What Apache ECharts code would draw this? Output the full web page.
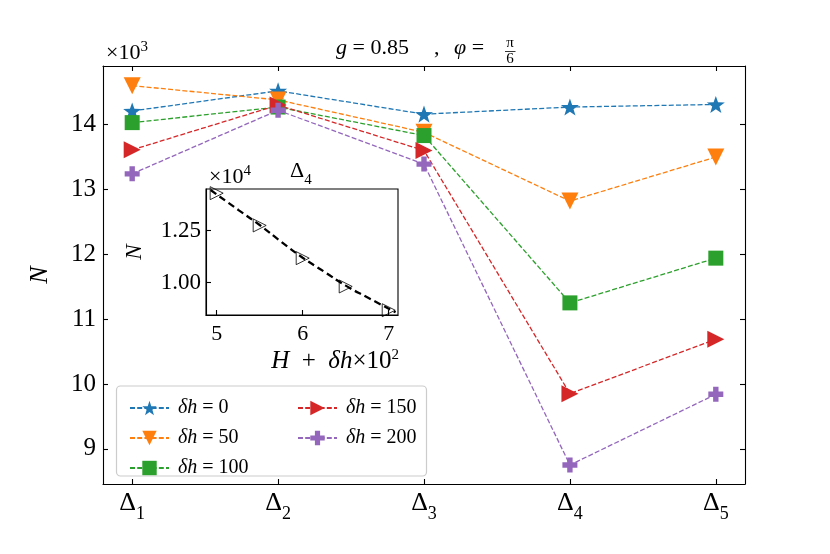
<!DOCTYPE html>
<html>
<head>
<meta charset="utf-8">
<script src="https://cdn.jsdelivr.net/npm/echarts@6/dist/echarts.min.js"></script>
<style>
  html, body { margin: 0; padding: 0; background: #fff; }
  #chart { width: 830px; height: 554px; }
</style>
</head>
<body>
<div id="chart"></div>
<script>
// main plot: N (x10^3) per section, one array per δh
var categories = ['Δ1', 'Δ2', 'Δ3', 'Δ4', 'Δ5'];
var seriesNames = ['δh = 0', 'δh = 50', 'δh = 100', 'δh = 150', 'δh = 200'];
var n0 = [14.21, 14.52, 14.16, 14.27, 14.31];
var n50 = [14.60, 14.38, 13.88, 12.82, 13.50];
var n100 = [14.03, 14.27, 13.83, 11.25, 11.94];
var n150 = [13.61, 14.30, 13.60, 9.85, 10.69];
var n200 = [13.24, 14.22, 13.39, 8.75, 9.84];
var yTicks = [9, 10, 11, 12, 13, 14];

// inset: Δ4 vs H + δh (x10^2), N in x10^4
var insetH = [5, 5.5, 6, 6.5, 7];
var insetN = [1.43, 1.275, 1.118, 0.982, 0.868];
var fitH = [4.93, 5.25, 5.5, 5.75, 6, 6.25, 6.5, 6.75, 7.08];
var fitN = [1.445, 1.35, 1.277, 1.197, 1.12, 1.053, 0.986, 0.93, 0.858];
var insetXTicks = [5, 6, 7];
var insetYTicks = [1.00, 1.25];

var colors = ['#1f77b4', '#ff7f0e', '#2ca02c', '#d62728', '#9467bd'];
var FONT = 'Liberation Serif';

var starPath = 'path://M0,-10L2.35,-3.24L9.51,-3.09L3.8,1.24L5.88,8.09L0,4L-5.88,8.09L-3.8,1.24L-9.51,-3.09L-2.35,-3.24Z';
var plusPath = 'path://M3.2,0L6.8,0L6.8,3.2L10,3.2L10,6.8L6.8,6.8L6.8,10L3.2,10L3.2,6.8L0,6.8L0,3.2L3.2,3.2Z';
var markers = [
  { symbol: starPath, size: 18, rotate: 0 },
  { symbol: 'triangle', size: 17, rotate: 180 },
  { symbol: 'rect', size: 15, rotate: 0 },
  { symbol: 'triangle', size: 17, rotate: -90 },
  { symbol: plusPath, size: 15, rotate: 0 }
];
var allN = [n0, n50, n100, n150, n200];
var catIdx = categories.map(function (c, i) { return i; });

var chart = echarts.init(document.getElementById('chart'));

var mainSeries = allN.map(function (arr, k) {
  return {
    name: seriesNames[k],
    type: 'line',
    xAxisIndex: 0,
    yAxisIndex: 0,
    data: arr.map(function (v, i) { return [i, v]; }),
    symbol: markers[k].symbol,
    symbolSize: markers[k].size,
    symbolRotate: markers[k].rotate,
    symbolKeepAspect: true,
    showAllSymbol: true,
    color: colors[k],
    itemStyle: { color: colors[k] },
    lineStyle: { color: colors[k], width: 1.3, type: [5, 2.2] },
    z: 2 + k
  };
});

var deltaLabel = function (v) {
  var s = categories[Math.round(v)];
  return '{d|' + s.charAt(0) + '}{s|' + s.slice(1) + '}';
};

var legendText = {
  fontFamily: FONT, fontSize: 20, color: '#000', padding: [0, 0, 0, 4],
  rich: {
    i: { fontFamily: FONT, fontStyle: 'italic', fontSize: 20 },
    r: { fontFamily: FONT, fontSize: 20 }
  }
};
var legendFmt = function (name) { return '{i|δh}{r|' + name.slice(2) + '}'; };

var option = {
  animation: false,
  backgroundColor: '#fff',
  grid: [
    { left: 103, top: 66, width: 642, height: 418, show: false },
    { left: 206, top: 189, width: 192, height: 126, show: true, backgroundColor: '#fff', borderColor: '#000', borderWidth: 1.1 }
  ],
  legend: [
    { data: seriesNames.slice(0, 3), orient: 'vertical', left: 124, top: 393, itemWidth: 39, itemHeight: 18, itemGap: 10, z: 6, textStyle: legendText, formatter: legendFmt },
    { data: seriesNames.slice(3), orient: 'vertical', left: 292, top: 393, itemWidth: 39, itemHeight: 18, itemGap: 10, z: 6, textStyle: legendText, formatter: legendFmt }
  ],
  xAxis: [
    {
      gridIndex: 0, type: 'value', min: -0.2, max: 4.2, position: 'bottom',
      axisLine: { show: true, onZero: false, lineStyle: { color: '#000', width: 1.1 } },
      axisTick: { show: true, inside: true, length: 5, customValues: catIdx, lineStyle: { color: '#000', width: 1.1 } },
      axisLabel: {
        customValues: catIdx, margin: 6, color: '#000', formatter: deltaLabel,
        rich: {
          d: { fontFamily: FONT, fontSize: 26, verticalAlign: 'bottom', padding: [0, 0, 7, 0] },
          s: { fontFamily: FONT, fontSize: 18, verticalAlign: 'bottom' }
        }
      },
      splitLine: { show: false }
    },
    {
      gridIndex: 0, type: 'value', min: -0.2, max: 4.2, position: 'top',
      axisLine: { show: true, onZero: false, lineStyle: { color: '#000', width: 1.1 } },
      axisTick: { show: true, inside: true, length: 5, customValues: catIdx, lineStyle: { color: '#000', width: 1.1 } },
      axisLabel: { show: false },
      splitLine: { show: false }
    },
    {
      gridIndex: 1, type: 'value', min: 4.876, max: 7.108, position: 'bottom',
      axisLine: { show: true, onZero: false, lineStyle: { color: '#000', width: 1.1 } },
      axisTick: { show: true, inside: true, length: 5, customValues: insetXTicks, lineStyle: { color: '#000', width: 1.1 } },
      axisLabel: { customValues: insetXTicks, margin: 8, color: '#000', fontFamily: FONT, fontSize: 22 },
      splitLine: { show: false }
    }
  ],
  yAxis: [
    {
      gridIndex: 0, type: 'value', min: 8.457, max: 14.903, position: 'left',
      name: 'N', nameLocation: 'middle', nameGap: 50, nameRotate: 90,
      nameTextStyle: { fontFamily: FONT, fontStyle: 'italic', fontSize: 26, color: '#000' },
      axisLine: { show: true, onZero: false, lineStyle: { color: '#000', width: 1.1 } },
      axisTick: { show: true, inside: true, length: 5, customValues: yTicks, lineStyle: { color: '#000', width: 1.1 } },
      axisLabel: { customValues: yTicks, margin: 7, color: '#000', fontFamily: FONT, fontSize: 25 },
      splitLine: { show: false }
    },
    {
      gridIndex: 0, type: 'value', min: 8.457, max: 14.903, position: 'right',
      axisLine: { show: true, onZero: false, lineStyle: { color: '#000', width: 1.1 } },
      axisTick: { show: true, inside: true, length: 5, customValues: yTicks, lineStyle: { color: '#000', width: 1.1 } },
      axisLabel: { show: false },
      splitLine: { show: false }
    },
    {
      gridIndex: 1, type: 'value', min: 0.845, max: 1.45, position: 'left',
      name: 'N', nameLocation: 'middle', nameGap: 60, nameRotate: 90,
      nameTextStyle: { fontFamily: FONT, fontStyle: 'italic', fontSize: 23, color: '#000' },
      axisLine: { show: true, onZero: false, lineStyle: { color: '#000', width: 1.1 } },
      axisTick: { show: true, inside: true, length: 5, customValues: insetYTicks, lineStyle: { color: '#000', width: 1.1 } },
      axisLabel: { customValues: insetYTicks, margin: 5, color: '#000', fontFamily: FONT, fontSize: 23, formatter: function (v) { return v.toFixed(2); } },
      splitLine: { show: false }
    }
  ],
  series: mainSeries.concat([
    {
      name: 'fit', type: 'line', xAxisIndex: 2, yAxisIndex: 2, smooth: true,
      data: fitH.map(function (h, i) { return [h, fitN[i]]; }),
      symbol: 'none', lineStyle: { color: '#000', width: 2.3, type: [7, 4] }, z: 10
    },
    {
      name: 'Δ4', type: 'scatter', xAxisIndex: 2, yAxisIndex: 2,
      data: insetH.map(function (h, i) { return [h, insetN[i]]; }),
      symbol: 'triangle', symbolSize: 13, symbolRotate: -90,
      itemStyle: { color: 'rgba(255,255,255,0)', borderColor: '#000', borderWidth: 1 }, z: 11
    }
  ]),
  graphic: [
    {
      type: 'rect', z: 5, shape: { x: 116.5, y: 386, width: 310, height: 90, r: 4 },
      style: { fill: 'rgba(255,255,255,0.8)', stroke: '#cccccc', lineWidth: 1.2 }
    },
    {
      type: 'text', x: 336, y: 48, z: 5,
      style: {
        text: '{i|g}{r| = 0.85}', verticalAlign: 'middle', align: 'left',
        rich: {
          i: { fontFamily: FONT, fontStyle: 'italic', fontSize: 22 },
          r: { fontFamily: FONT, fontSize: 22 }
        }
      }
    },
    { type: 'text', x: 434, y: 48, z: 5, style: { text: ',', fontFamily: FONT, fontSize: 22, align: 'left', verticalAlign: 'middle' } },
    {
      type: 'text', x: 454, y: 48, z: 5,
      style: {
        text: '{i|φ}{r| = }', verticalAlign: 'middle', align: 'left',
        rich: {
          i: { fontFamily: FONT, fontStyle: 'italic', fontSize: 22 },
          r: { fontFamily: FONT, fontSize: 22 }
        }
      }
    },
    { type: 'text', x: 510, y: 43, z: 5, style: { text: 'π', fontFamily: FONT, fontSize: 15, align: 'center', verticalAlign: 'middle' } },
    { type: 'line', z: 5, shape: { x1: 505, y1: 51.5, x2: 515.5, y2: 51.5 }, style: { stroke: '#000', lineWidth: 0.8 } },
    { type: 'text', x: 510, y: 59.5, z: 5, style: { text: '6', fontFamily: FONT, fontSize: 15, align: 'center', verticalAlign: 'middle' } },
    {
      type: 'text', x: 106, y: 52, z: 5,
      style: {
        text: '{n|×10}{p|3}', verticalAlign: 'middle', align: 'left',
        rich: {
          n: { fontFamily: FONT, fontSize: 22, verticalAlign: 'bottom' },
          p: { fontFamily: FONT, fontSize: 15, verticalAlign: 'bottom', padding: [0, 0, 9, 0] }
        }
      }
    },
    {
      type: 'text', x: 209, y: 176, z: 5,
      style: {
        text: '{n|×10}{p|4}', verticalAlign: 'middle', align: 'left',
        rich: {
          n: { fontFamily: FONT, fontSize: 22, verticalAlign: 'bottom' },
          p: { fontFamily: FONT, fontSize: 15, verticalAlign: 'bottom', padding: [0, 0, 9, 0] }
        }
      }
    },
    {
      type: 'text', x: 290, y: 174, z: 5,
      style: {
        text: '{d|Δ}{s|4}', verticalAlign: 'middle', align: 'left',
        rich: {
          d: { fontFamily: FONT, fontSize: 22, verticalAlign: 'bottom', padding: [0, 0, 5, 0] },
          s: { fontFamily: FONT, fontSize: 15, verticalAlign: 'bottom' }
        }
      }
    },
    {
      type: 'text', x: 399, y: 361, z: 5,
      style: {
        text: '{i|H}{r|  +  }{i|δh}{r|×10}{p|2}', verticalAlign: 'middle', align: 'right',
        rich: {
          i: { fontFamily: FONT, fontStyle: 'italic', fontSize: 25, verticalAlign: 'bottom' },
          r: { fontFamily: FONT, fontSize: 25, verticalAlign: 'bottom' },
          p: { fontFamily: FONT, fontSize: 15, verticalAlign: 'bottom', padding: [0, 0, 11, 0] }
        }
      }
    }
  ]
};

chart.setOption(option);
</script>
</body>
</html>
